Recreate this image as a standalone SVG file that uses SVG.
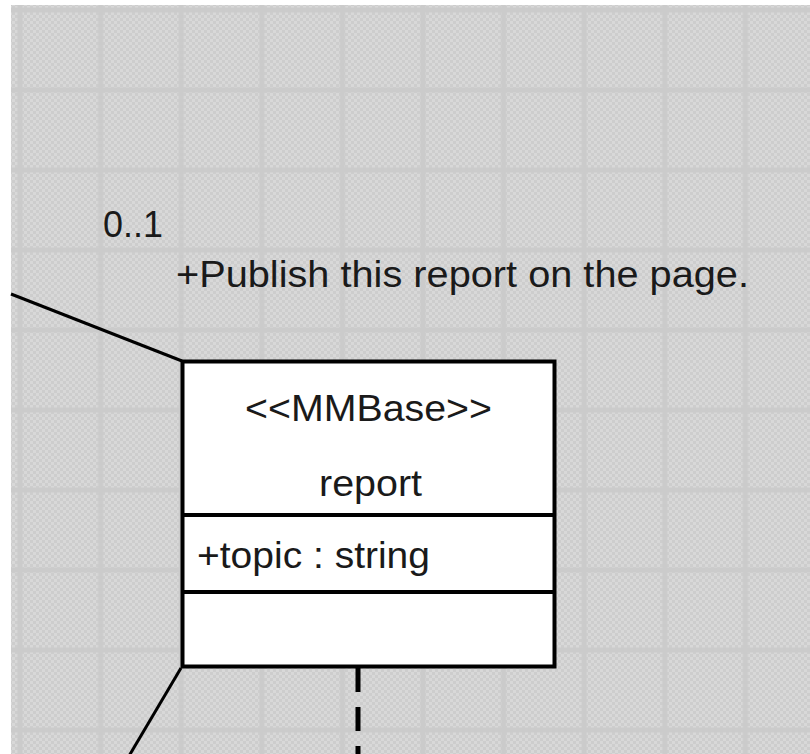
<svg xmlns="http://www.w3.org/2000/svg" width="810" height="754" viewBox="0 0 810 754">
  <defs>
    <pattern id="tex" width="12" height="12" patternUnits="userSpaceOnUse">
      <rect width="12" height="12" fill="#d8d8d8"/>
      <path d="M0 0h3v3H0z M3 3h3v3H3z M6 6h3v3H6z M9 9h3v3H9z M6 0h3v3H6z M9 3h3v3H9z M0 6h3v3H0z M3 9h3v3H3z" fill="#cdcdcd"/>
    </pattern>
    <pattern id="grid" x="0" y="0" width="80.6" height="80" patternUnits="userSpaceOnUse" patternTransform="translate(20 10)">
      <rect x="-2.5" y="0" width="5" height="80" fill="#cbcbcb"/>
      <rect x="78.1" y="0" width="5" height="80" fill="#cbcbcb"/>
      <rect x="0" y="-2.5" width="80.6" height="5" fill="#cbcbcb"/>
      <rect x="0" y="77.5" width="80.6" height="5" fill="#cbcbcb"/>
    </pattern>
  </defs>
  <style>
    .lbl { font-family: "Liberation Sans", Arial, sans-serif; font-size: 37px; fill: #1a1a1a; }
    .box { fill: #ffffff; stroke: #000000; stroke-width: 4; }
    .div { stroke: #000000; stroke-width: 4; }
    .assoc { stroke: #000000; stroke-width: 3; fill: none; }
    .dep { stroke: #000000; stroke-width: 5; stroke-dasharray: 24 15; fill: none; }
  </style>

  <rect x="0" y="0" width="810" height="754" fill="#ffffff"/>
  <rect x="11" y="5" width="799" height="749" fill="url(#tex)"/>
  <rect x="11" y="5" width="799" height="749" fill="url(#grid)"/>

  <g id="connectors">
    <line class="assoc" x1="11" y1="294" x2="182" y2="361"/>
    <line class="assoc" x1="181" y1="668" x2="129" y2="756"/>
    <line class="dep" x1="358" y1="668" x2="358" y2="756"/>
    <text class="lbl" x="103" y="237" textLength="60" lengthAdjust="spacingAndGlyphs">0..1</text>
    <text class="lbl" x="176" y="287" textLength="573" lengthAdjust="spacingAndGlyphs">+Publish this report on the page.</text>
  </g>

  <g id="report">
    <rect class="box" x="182.5" y="361.5" width="372" height="305"/>
    <line class="div" x1="182.5" y1="515" x2="554.5" y2="515"/>
    <line class="div" x1="182.5" y1="592" x2="554.5" y2="592"/>
    <text class="lbl" x="245" y="421" textLength="247" lengthAdjust="spacingAndGlyphs">&lt;&lt;MMBase&gt;&gt;</text>
    <text class="lbl" x="319" y="496" textLength="103" lengthAdjust="spacingAndGlyphs">report</text>
    <text class="lbl" x="197" y="568" textLength="233" lengthAdjust="spacingAndGlyphs">+topic : string</text>
  </g>
</svg>
